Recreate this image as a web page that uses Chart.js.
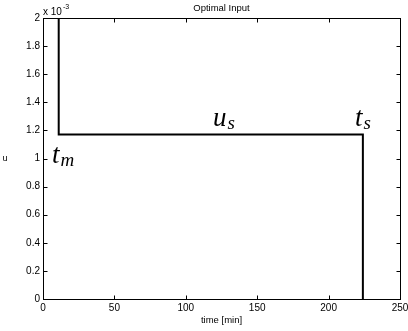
<!DOCTYPE html>
<html><head><meta charset="utf-8">
<script src="https://cdn.jsdelivr.net/npm/chart.js@4.4.0/dist/chart.umd.min.js"></script>
<style>html,body{margin:0;padding:0;background:#fff}#wrap{width:408px;height:331px}</style>
</head><body><div id="wrap"><canvas id="c" width="408" height="331"></canvas></div>
<script>
const timeValues = [0, 11, 11, 224, 224];
const inputValues = [0.002, 0.002, 0.00117, 0.00117, 0];
const xTickValues = [0, 50, 100, 150, 200, 250];
const yTickValues = [0, 0.0002, 0.0004, 0.0006, 0.0008, 0.001, 0.0012, 0.0014, 0.0016, 0.0018, 0.002];
const annotationText = ['t', 'u', 't'];
const annotationSub = ['m', 's', 's'];
const annotationX = [6.3, 119, 218.5];
const annotationY = [0.00097, 0.00123, 0.00123];

const F = '"Liberation Sans", Arial, sans-serif';
const S = '"Liberation Serif", "DejaVu Serif", serif';

const boxPlugin = {
  id: 'box',
  afterDraw(chart) {
    const ctx = chart.ctx, a = chart.chartArea, xs = chart.scales.x, ys = chart.scales.y;
    ctx.save();
    ctx.strokeStyle = '#000'; ctx.lineWidth = 1;
    const L = Math.round(a.left) + 0.5, R = Math.round(a.right) + 0.5, T = Math.round(a.top) + 0.5, B = Math.round(a.bottom) + 0.5;
    ctx.strokeRect(L, T, R - L, B - T);
    ctx.beginPath();
    xTickValues.forEach(v => {
      const p = Math.round(xs.getPixelForValue(v)) + 0.5;
      ctx.moveTo(p, B); ctx.lineTo(p, B - 4);
      ctx.moveTo(p, T); ctx.lineTo(p, T + 4);
    });
    yTickValues.forEach(v => {
      const p = Math.round(ys.getPixelForValue(v)) + 0.5;
      ctx.moveTo(L, p); ctx.lineTo(L + 4, p);
      ctx.moveTo(R, p); ctx.lineTo(R - 4, p);
    });
    ctx.stroke();
    ctx.fillStyle = '#000';
    ctx.font = '9.5px ' + F;
    ctx.textAlign = 'center'; ctx.textBaseline = 'alphabetic';
    ctx.fillText('Optimal Input', (a.left + a.right) / 2, 11);
    ctx.font = '9px ' + F;
    ctx.fillText('u', 5, 161);
    ctx.textAlign = 'left';
    ctx.font = '10px ' + F;
    ctx.fillText('x 10', 43, 15);
    ctx.font = '7px ' + F;
    ctx.fillText('-3', 63, 9);
    annotationText.forEach((t, i) => {
      const px = xs.getPixelForValue(annotationX[i]);
      const py = ys.getPixelForValue(annotationY[i]);
      ctx.font = 'italic 27px ' + S;
      ctx.fillText(t, px, py);
      const w = ctx.measureText(t).width;
      ctx.font = 'italic 19px ' + S;
      ctx.fillText(annotationSub[i], px + w + 1, py + 3);
    });
    ctx.restore();
  }
};

new Chart(document.getElementById('c'), {
  type: 'line',
  data: {
    datasets: [{
      data: timeValues.map((t, i) => ({x: t, y: inputValues[i]})),
      borderColor: '#000', borderWidth: 2, pointRadius: 0, fill: false, tension: 0
    }]
  },
  options: {
    responsive: false, animation: false, devicePixelRatio: 1,
    layout: {padding: {top: 18, right: 8, left: 0, bottom: 0}},
    plugins: {legend: {display: false}, tooltip: {enabled: false}},
    scales: {
      x: {
        type: 'linear', min: 0, max: 250,
        afterBuildTicks: s => { s.ticks = xTickValues.map(v => ({value: v})); },
        afterFit: s => { s.height = 32; s.paddingLeft = 0; s.paddingRight = 0; },
        grid: {display: false, drawTicks: false},
        border: {display: false},
        ticks: {color: '#000', font: {family: F, size: 10}, padding: 3, maxRotation: 0, autoSkip: false},
        title: {display: true, text: 'time [min]', color: '#000', font: {family: F, size: 9.5}, padding: {top: 0, bottom: 5}}
      },
      y: {
        type: 'linear', min: 0, max: 0.002,
        afterBuildTicks: s => { s.ticks = yTickValues.map(v => ({value: v})); },
        afterFit: s => { s.width = 43; s.paddingTop = 0; s.paddingBottom = 0; },
        grid: {display: false, drawTicks: false},
        border: {display: false},
        ticks: {color: '#000', font: {family: F, size: 10}, padding: 3, autoSkip: false,
          callback: v => String(+(v * 1000).toFixed(1))}
      }
    }
  },
  plugins: [boxPlugin]
});
</script></body></html>
